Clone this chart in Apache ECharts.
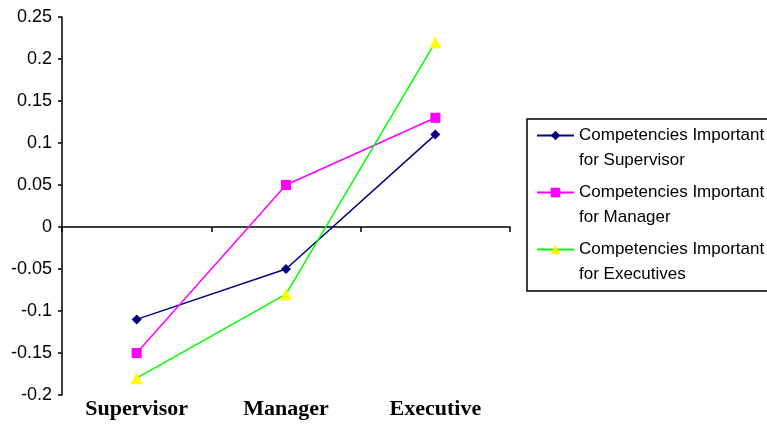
<!DOCTYPE html>
<html>
<head>
<meta charset="utf-8">
<style>
  html, body { margin: 0; padding: 0; background: #fff; }
  #chart { width: 767px; height: 429px; }
</style>
<script src="https://cdn.jsdelivr.net/npm/echarts@6/dist/echarts.min.js"></script>
</head>
<body>
<div id="chart"></div>
<script>
// Job levels along the horizontal axis
const levels = ['Supervisor', 'Manager', 'Executive'];

// Scores per competency group
const supervisorComp = [-0.11, -0.05, 0.11];
const managerComp = [-0.15, 0.05, 0.13];
const executiveComp = [-0.18, -0.08, 0.22];

// Series names as shown in the legend
const seriesNames = [
  'Competencies Important\nfor Supervisor',
  'Competencies Important\nfor Manager',
  'Competencies Important\nfor Executives'
];

// Value axis range
const yMin = -0.2;
const yMax = 0.25;
const yStep = 0.05;

const chart = echarts.init(document.getElementById('chart'), null, { renderer: 'canvas' });

const catFont = '"Liberation Serif", "Times New Roman", serif';
const sansFont = '"Liberation Sans", Arial, sans-serif';

chart.setOption({
  animation: false,
  backgroundColor: '#ffffff',
  grid: { left: 62, top: 17, right: 257, bottom: 34, containLabel: false },
  xAxis: [
    {
      type: 'category',
      data: levels,
      boundaryGap: true,
      axisLine: { onZero: true, lineStyle: { color: '#000', width: 1.5 } },
      axisTick: { show: true, length: 5, lineStyle: { color: '#000', width: 1.5 } },
      axisLabel: { show: false },
      splitLine: { show: false }
    },
    {
      type: 'category',
      data: levels,
      position: 'bottom',
      boundaryGap: true,
      axisLine: { show: false, onZero: false },
      axisTick: { show: false },
      axisLabel: {
        show: true,
        margin: 3,
        color: '#000',
        fontFamily: catFont,
        fontWeight: 'bold',
        fontSize: 22
      },
      splitLine: { show: false }
    }
  ],
  yAxis: {
    type: 'value',
    min: yMin,
    max: yMax,
    interval: yStep,
    axisLine: { show: true, lineStyle: { color: '#000', width: 1.5 } },
    axisTick: { show: true, length: 4, lineStyle: { color: '#000', width: 1.5 } },
    axisLabel: {
      color: '#000',
      fontFamily: sansFont,
      fontSize: 18,
      margin: 10,
      formatter: function (v) { return String(Math.round(v * 100) / 100); }
    },
    splitLine: { show: false }
  },
  legend: {
    orient: 'vertical',
    left: 536,
    top: 98,
    padding: 0,
    itemWidth: 37,
    itemHeight: 12,
    itemGap: -18,
    formatter: function (name) { return '\n' + name; },
    textStyle: {
      color: '#000',
      fontFamily: sansFont,
      fontSize: 17,
      lineHeight: 25
    },
    data: seriesNames
  },
  graphic: [
    {
      type: 'rect',
      shape: { x: 527, y: 119, width: 300, height: 172 },
      style: { fill: 'none', stroke: '#000', lineWidth: 1.5 },
      silent: true
    }
  ],
  series: [
    {
      name: seriesNames[0],
      type: 'line',
      data: supervisorComp,
      symbol: 'diamond',
      symbolSize: 10,
      itemStyle: { color: '#000080' },
      lineStyle: { color: '#000080', width: 1.5 }
    },
    {
      name: seriesNames[1],
      type: 'line',
      data: managerComp,
      symbol: 'rect',
      symbolSize: 10,
      itemStyle: { color: '#ff00ff' },
      lineStyle: { color: '#ff00ff', width: 1.5 }
    },
    {
      name: seriesNames[2],
      type: 'line',
      data: executiveComp,
      symbol: 'triangle',
      symbolSize: 12,
      itemStyle: { color: '#ffff00' },
      lineStyle: { color: '#00ff00', width: 1.5 }
    }
  ]
});
</script>
</body>
</html>
